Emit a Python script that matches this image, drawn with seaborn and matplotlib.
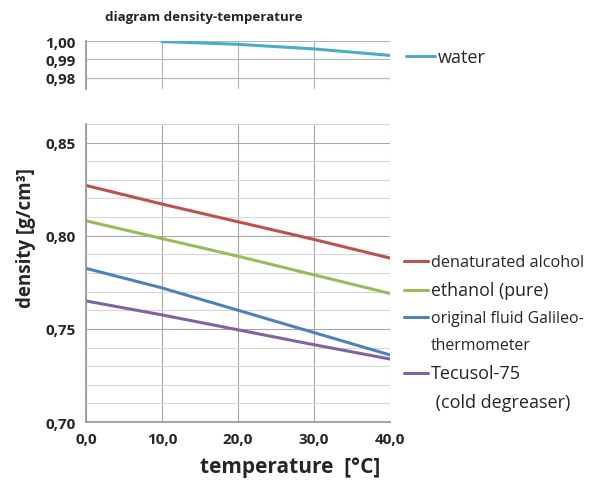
import numpy as np
import pandas as pd
import seaborn as sns
import matplotlib.pyplot as plt
from matplotlib.lines import Line2D
from matplotlib.ticker import MultipleLocator, FuncFormatter

sns.set_theme(style='white')
plt.rcParams['font.family'] = ['Open Sans', 'DejaVu Sans']

# data
temperature = [0, 10, 20, 30, 40]
water_temp = [10, 20, 30, 40]
water = [0.9997, 0.9982, 0.9957, 0.9922]
denaturated_alcohol = [0.827, 0.817, 0.8075, 0.798, 0.788]
ethanol = [0.808, 0.7985, 0.789, 0.779, 0.769]
galileo_fluid = [0.7825, 0.772, 0.760, 0.748, 0.736]
tecusol = [0.765, 0.7575, 0.7495, 0.7415, 0.7338]

series_names = ['denaturated alcohol', 'ethanol (pure)',
                'original fluid Galileo-', 'Tecusol-75']
series_colors = ['#C0504D', '#9BBB59', '#4F81BD', '#8064A2']
x_tick_labels = ['0,0', '10,0', '20,0', '30,0', '40,0']

# legend rows: (label, colour or None for a continuation line, font size)
legend_rows = [('denaturated alcohol', '#C0504D', 11.7),
               ('ethanol (pure)', '#9BBB59', 12.8),
               ('original fluid Galileo-', '#4F81BD', 11.4),
               ('thermometer', None, 11.4),
               ('Tecusol-75', '#8064A2', 13),
               (' (cold degreaser)', None, 13)]

df = pd.DataFrame({
    'temperature': temperature * 4,
    'density': denaturated_alcohol + ethanol + galileo_fluid + tecusol,
    'fluid': [n for n in series_names for _ in temperature],
})
df_water = pd.DataFrame({'temperature': water_temp, 'density': water})

fig = plt.figure(figsize=(6.01, 4.85), dpi=100)
ax_top = fig.add_axes([0.143, 0.8144, 0.506, 0.0990])
ax = fig.add_axes([0.143, 0.1278, 0.506, 0.6145])

comma = FuncFormatter(lambda v, p: '{0:.2f}'.format(v).replace('.', ','))
tick_kw = dict(labelsize=11, labelcolor='#262626', direction='out',
               length=4, color='#9a9a9a', width=0.8)

# water (top panel)
sns.lineplot(data=df_water, x='temperature', y='density', ax=ax_top,
             color='#4BACC6', linewidth=2.2, label='water')
ax_top.set_xlim(0, 40)
ax_top.set_ylim(0.974, 1.0)
ax_top.set_yticks([0.98, 0.99, 1.00])
ax_top.yaxis.set_major_formatter(comma)
ax_top.set_xticks(temperature)
ax_top.set_xticklabels([])
ax_top.grid(True, color='#b5b5b5', linewidth=0.8)
ax_top.set_axisbelow(True)
for s in ['top', 'right', 'bottom']:
    ax_top.spines[s].set_visible(False)
ax_top.spines['left'].set_color('#9a9a9a')
ax_top.tick_params(axis='y', **tick_kw)
ax_top.tick_params(axis='x', length=0)
ax_top.set_xlabel('')
ax_top.set_ylabel('')
for t in ax_top.get_yticklabels():
    t.set_fontweight('bold')
ax_top.set_title('diagram density-temperature', fontsize=9.6,
                 fontweight='bold', color='#262626', pad=15, x=0.388)
ax_top.legend(loc='center left', bbox_to_anchor=(1.0, 0.66),
              frameon=False, handlelength=1.6, handletextpad=0.15,
              fontsize=13)

# main panel
sns.lineplot(data=df, x='temperature', y='density', hue='fluid',
             palette=dict(zip(series_names, series_colors)),
             linewidth=2.2, ax=ax, legend=False)
ax.set_xlim(0, 40)
ax.set_ylim(0.70, 0.86)
ax.set_xticks(temperature)
ax.set_xticklabels(x_tick_labels)
ax.yaxis.set_major_locator(MultipleLocator(0.05))
ax.yaxis.set_minor_locator(MultipleLocator(0.01))
ax.yaxis.set_major_formatter(comma)
ax.grid(True, which='major', color='#a8a8a8', linewidth=0.8)
ax.grid(True, which='minor', axis='y', color='#d6d6d6', linewidth=0.8)
ax.set_axisbelow(True)
for s in ['top', 'right']:
    ax.spines[s].set_visible(False)
for s in ['left', 'bottom']:
    ax.spines[s].set_color('#9a9a9a')
ax.tick_params(axis='both', which='major', **tick_kw)
ax.tick_params(axis='y', which='minor', length=0)
for t in ax.get_xticklabels() + ax.get_yticklabels():
    t.set_fontweight('bold')

ax.set_xlabel('temperature  [°C]', fontsize=15, fontweight='bold',
              color='#262626')
ax.xaxis.set_label_coords(0.67, -0.115)
ax.set_ylabel('density [g/cm³]', fontsize=13.5, fontweight='bold',
              color='#262626')
ax.yaxis.set_label_coords(-0.165, 0.62)

handles = [Line2D([], [], color=c if c else 'none', linewidth=2.2)
           for _, c, _ in legend_rows]
leg = ax.legend(handles, [r[0] for r in legend_rows],
                loc='center left', bbox_to_anchor=(1.0, 0.30),
                frameon=False, handlelength=1.6, handletextpad=0.15,
                labelspacing=0.72)
for txt, (_, _, size) in zip(leg.get_texts(), legend_rows):
    txt.set_fontsize(size)
    txt.set_color('#262626')

fig.savefig('out.png', dpi=100)
